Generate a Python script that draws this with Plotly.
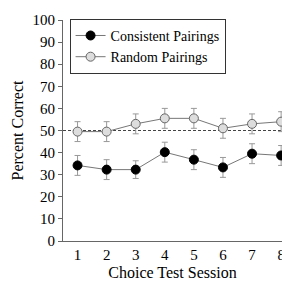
import plotly.graph_objects as go

sessions = [1, 2, 3, 4, 5, 6, 7, 8]
random_pairings = [49.5, 49.5, 53, 55.5, 55.5, 51, 53, 54]
random_err = [4.5, 4.5, 4.5, 4.5, 4.5, 4.5, 4.5, 4.5]
consistent_pairings = [34.2, 32.3, 32.3, 40.2, 36.8, 33.3, 39.5, 38.7]
consistent_err = [4.5, 4.5, 4, 4.5, 4.5, 4.5, 4.5, 4.5]
chance = 50
y_ticks = [0, 10, 20, 30, 40, 50, 60, 70, 80, 90, 100]

font = "Liberation Serif, Times New Roman, serif"

fig = go.Figure()
fig.add_trace(go.Scatter(
    x=[0.5, 8.5], y=[chance, chance], mode="lines",
    line=dict(color="#444", width=1, dash="3px,2px"), showlegend=False, hoverinfo="skip"))
fig.add_trace(go.Scatter(
    x=sessions, y=consistent_pairings, mode="lines+markers", name="Consistent Pairings",
    line=dict(color="#777", width=1),
    marker=dict(color="black", size=9, line=dict(color="black", width=1)),
    error_y=dict(type="data", array=consistent_err, color="#999", thickness=1, width=3)))
fig.add_trace(go.Scatter(
    x=sessions, y=random_pairings, mode="lines+markers", name="Random Pairings",
    line=dict(color="#777", width=1),
    marker=dict(color="#dddddd", size=9, line=dict(color="#666", width=1)),
    error_y=dict(type="data", array=random_err, color="#999", thickness=1, width=3)))

fig.update_layout(
    width=282, height=285,
    margin=dict(l=63, r=0, t=20, b=44),
    plot_bgcolor="white", paper_bgcolor="white",
    font=dict(family=font, size=15, color="black"),
    legend=dict(x=0.03, y=1.005, xanchor="left", yanchor="top",
                bordercolor="#333", borderwidth=1, bgcolor="white",
                font=dict(family=font, size=14), itemwidth=30,
                tracegroupgap=0),
    xaxis=dict(range=[0.5, 8.03], tickvals=sessions, showgrid=False, zeroline=False,
               showline=True, linecolor="#666", linewidth=1, ticks="",
               automargin=False, ticklabeloverflow="allow",
               title=dict(text="Choice Test Session", font=dict(size=16), standoff=4),
               tickfont=dict(size=15)),
    yaxis=dict(range=[0, 100], tickvals=y_ticks, showgrid=False, zeroline=False,
               showline=True, linecolor="#666", linewidth=1, ticks="outside",
               ticklen=4, tickcolor="#666", automargin=False,
               title=dict(text="Percent Correct", font=dict(size=16), standoff=4),
               tickfont=dict(size=15)),
)
fig.write_html("out.html", config={"displayModeBar": False},
               post_script="document.body.style.margin='0';document.body.style.overflow='hidden';")
